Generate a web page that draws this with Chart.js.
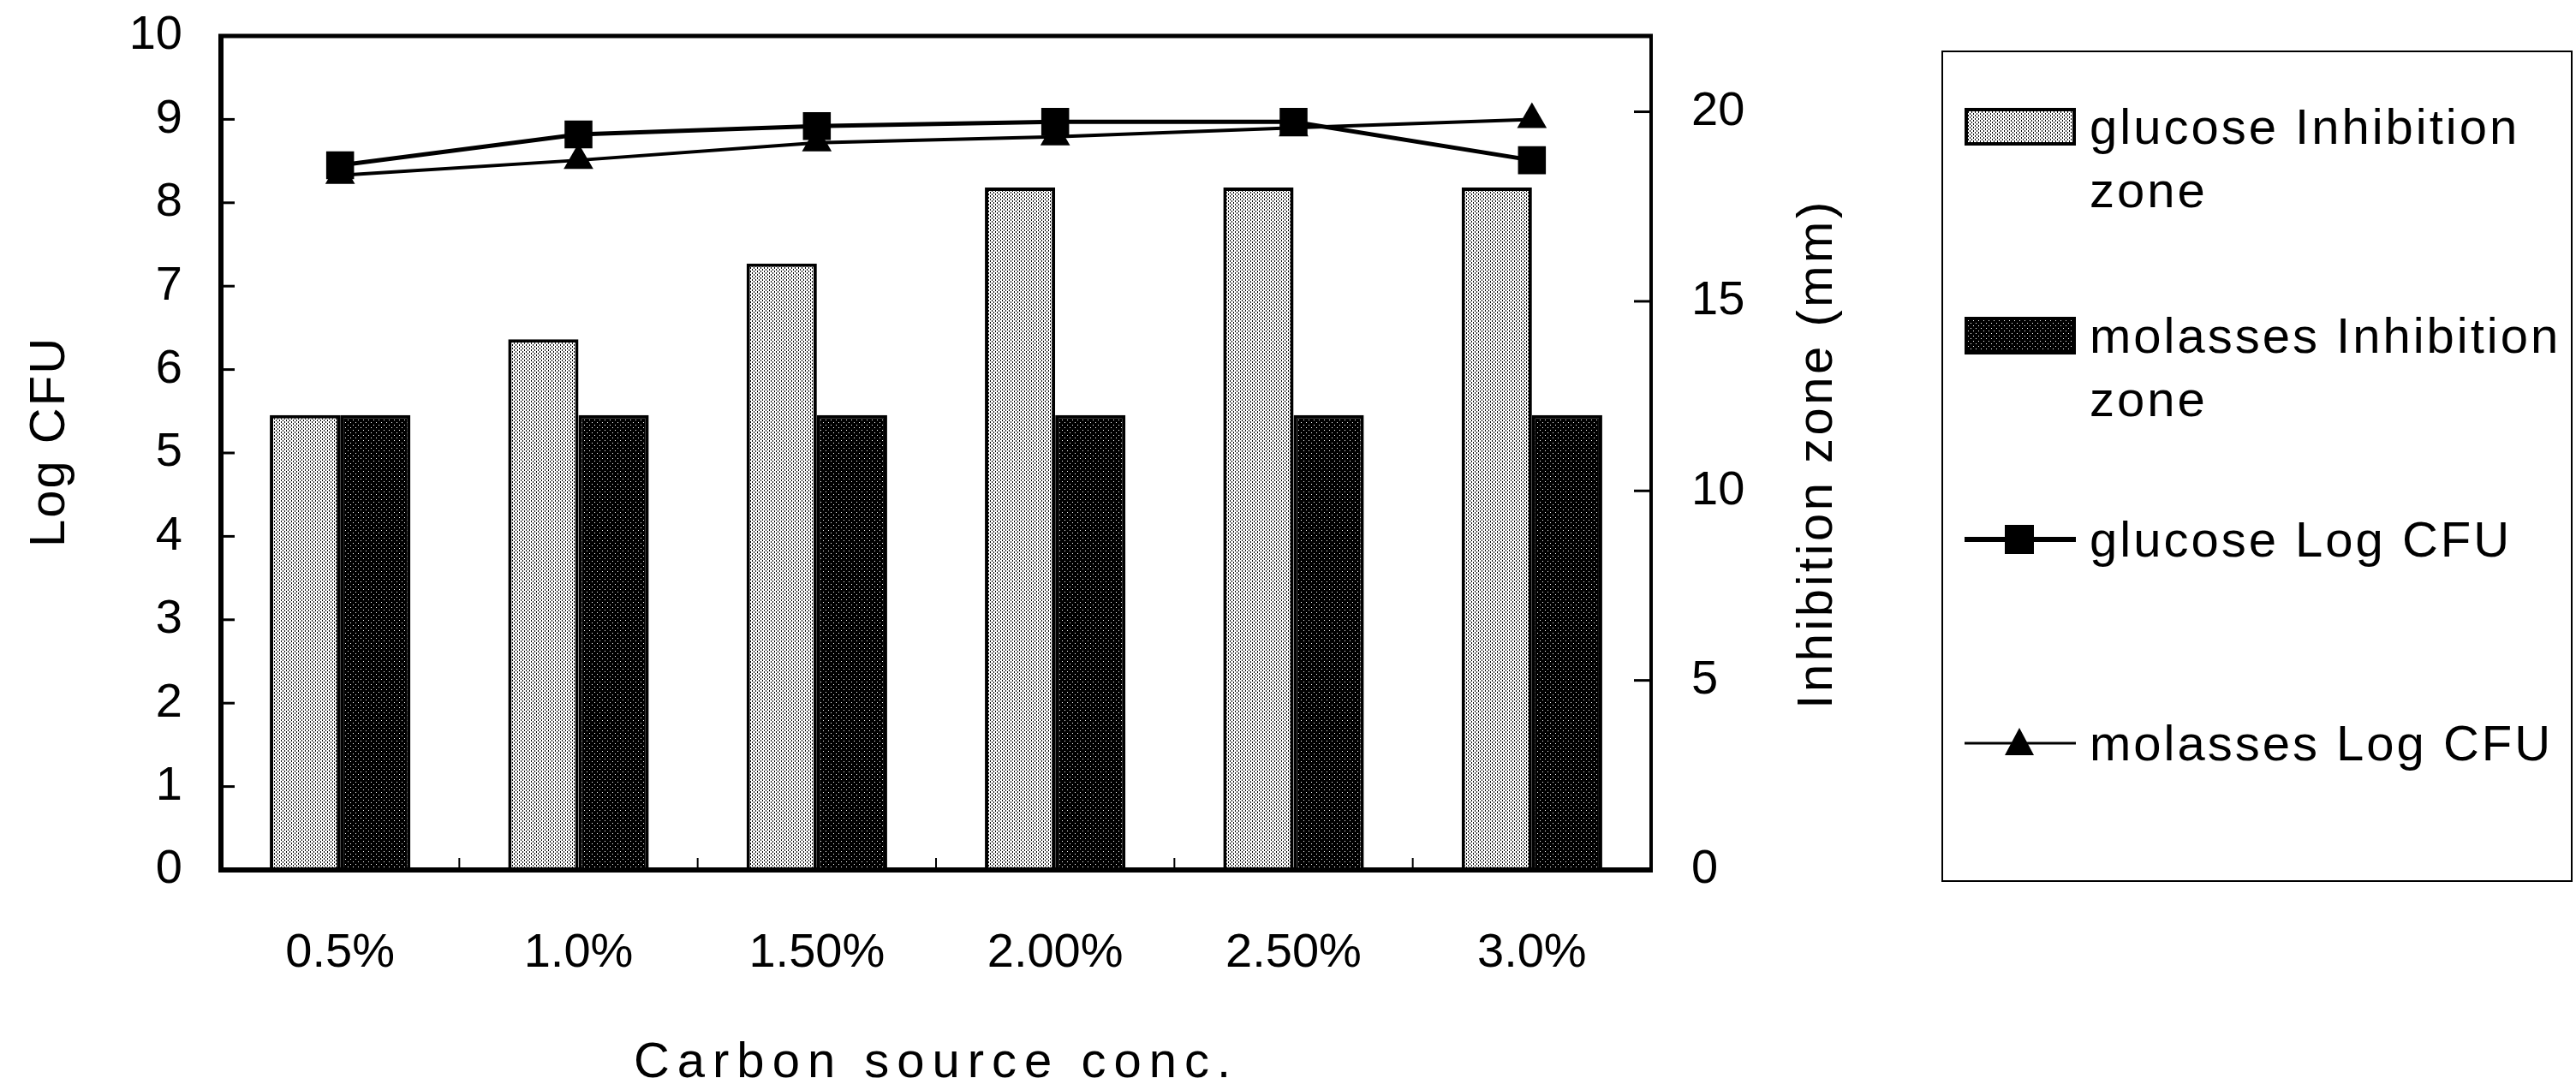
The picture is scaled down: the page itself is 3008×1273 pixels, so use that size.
<!DOCTYPE html>
<html>
<head>
<meta charset="utf-8">
<title>Carbon source conc.</title>
<script src="https://cdn.jsdelivr.net/npm/chart.js@4.4.1/dist/chart.umd.min.js"></script>
<style>
    html, body { margin: 0; padding: 0; background: #fff; }
    #wrap { position: relative; width: 3008px; height: 1273px; }
    #chart { position: absolute; left: 0; top: 0; }
    #legend {
        position: absolute; left: 2267px; top: 59px;
        width: 737px; height: 971px; box-sizing: border-box;
        border: 2px solid #000;
        font-family: "Liberation Sans", Arial, sans-serif;
        font-size: 58px; letter-spacing: 3px; color: #000;
    }
    .item { position: absolute; left: 0; width: 100%; }
    .item canvas { position: absolute; left: 25px; top: 15px; }
    .item .txt { position: absolute; left: 171px; top: 0; line-height: 74px; white-space: nowrap; }
</style>
</head>
<body>
<div id="wrap">
    <canvas id="chart" width="3008" height="1273"></canvas>
    <div id="legend"></div>
</div>
<script>
const FONT = "'Liberation Sans', Arial, sans-serif";

// data
const categories = ["0.5%", "1.0%", "1.50%", "2.00%", "2.50%", "3.0%"];
const glucoseZone = [12, 14, 16, 18, 18, 18];     // mm, right axis
const molassesZone = [12, 12, 12, 12, 12, 12];    // mm, right axis
const glucoseLogCfu = [8.45, 8.82, 8.92, 8.97, 8.97, 8.51];
const molassesLogCfu = [8.33, 8.51, 8.72, 8.79, 8.90, 9.00];
const zoneTicks = [0, 5, 10, 15, 20];

const glucoseZoneLabel = ["glucose Inhibition", "zone"];
const molassesZoneLabel = ["molasses Inhibition", "zone"];
const glucoseCfuLabel = ["glucose Log CFU"];
const molassesCfuLabel = ["molasses Log CFU"];

// stipple fills for the bars
function makePattern(bg, fg, dots, size) {
    const c = document.createElement("canvas");
    c.width = c.height = size;
    const g = c.getContext("2d");
    g.fillStyle = bg;
    g.fillRect(0, 0, size, size);
    g.fillStyle = fg;
    dots.forEach(d => g.fillRect(d[0], d[1], d[2], d[3]));
    return g.createPattern(c, "repeat");
}
const glucoseFill = makePattern("#fff", "#000", [[0, 0, 1, 2], [2, 2, 1, 2]], 4);
const molassesFill = makePattern("#000", "#fff", [[1, 1, 1, 1], [4, 4, 1, 1]], 6);

function line(ctx, x1, y1, x2, y2) {
    ctx.beginPath();
    ctx.moveTo(x1, y1);
    ctx.lineTo(x2, y2);
    ctx.stroke();
}

// keep tick labels from pushing the plot area around
function noPad(s) {
    s.paddingTop = 0;
    s.paddingBottom = 0;
    s.paddingLeft = 0;
    s.paddingRight = 0;
}

// box around the plot and the small inward tick marks
const framePlugin = {
    id: "frame",
    afterDatasetsDraw(chart) {
        const { ctx, chartArea: a, scales } = chart;
        ctx.save();
        ctx.strokeStyle = "#000";
        ctx.lineWidth = 3;
        scales.y.ticks.forEach(t => {
            const py = scales.y.getPixelForValue(t.value);
            line(ctx, a.left, py, a.left + 16, py);
        });
        scales.y1.ticks.forEach(t => {
            const py = scales.y1.getPixelForValue(t.value);
            line(ctx, a.right - 20, py, a.right, py);
        });
        ctx.lineWidth = 2;
        for (let i = 1; i < categories.length; i++) {
            const px = (scales.x.getPixelForTick(i - 1) + scales.x.getPixelForTick(i)) / 2;
            line(ctx, px, a.bottom - 14, px, a.bottom);
        }
        ctx.lineWidth = 6;
        line(ctx, a.left, a.top - 2, a.left, a.bottom + 3);
        line(ctx, a.left - 3, a.bottom, a.right + 2, a.bottom);
        ctx.lineWidth = 5;
        line(ctx, a.left - 3, a.top, a.right + 2, a.top);
        ctx.lineWidth = 4;
        line(ctx, a.right, a.top - 2, a.right, a.bottom + 3);
        ctx.restore();
    }
};

// axis titles (letter-spaced, both vertical ones read bottom to top)
const titlePlugin = {
    id: "titles",
    afterDraw(chart) {
        const { ctx, chartArea: a } = chart;
        ctx.save();
        ctx.fillStyle = "#000";
        ctx.font = "58px " + FONT;
        ctx.textAlign = "center";
        ctx.textBaseline = "alphabetic";

        ctx.letterSpacing = "9px";
        ctx.fillText("Carbon source conc.", (a.left + a.right) / 2, 1258);

        ctx.letterSpacing = "2px";
        ctx.save();
        ctx.translate(75, 516);
        ctx.rotate(-Math.PI / 2);
        ctx.fillText("Log CFU", 0, 0);
        ctx.restore();

        ctx.letterSpacing = "3.5px";
        ctx.save();
        ctx.translate(2139, 530);
        ctx.rotate(-Math.PI / 2);
        ctx.fillText("Inhibition zone (mm)", 0, 0);
        ctx.restore();
        ctx.restore();
    }
};

const tickFont = { family: FONT, size: 56 };

new Chart(document.getElementById("chart").getContext("2d"), {
    type: "bar",
    data: {
        labels: categories,
        datasets: [
            {
                type: "line", label: glucoseCfuLabel.join(" "), data: glucoseLogCfu, yAxisID: "y", order: 0,
                borderColor: "#000", borderWidth: 5, backgroundColor: "#000",
                pointStyle: "rect", pointRadius: 23, pointBorderWidth: 0
            },
            {
                type: "line", label: molassesCfuLabel.join(" "), data: molassesLogCfu, yAxisID: "y", order: 0,
                borderColor: "#000", borderWidth: 4, backgroundColor: "#000",
                pointStyle: "triangle", pointRadius: 20, pointBorderWidth: 0
            },
            {
                label: glucoseZoneLabel.join(" "), data: glucoseZone, yAxisID: "y1", order: 1,
                backgroundColor: glucoseFill, borderColor: "#000", borderWidth: 4,
                categoryPercentage: 0.59, barPercentage: 1.0
            },
            {
                label: molassesZoneLabel.join(" "), data: molassesZone, yAxisID: "y1", order: 1,
                backgroundColor: molassesFill, borderColor: "#000", borderWidth: 4,
                categoryPercentage: 0.59, barPercentage: 1.0
            }
        ]
    },
    options: {
        responsive: false,
        animation: false,
        devicePixelRatio: 1,
        layout: { padding: { top: 42, left: 0, right: 0, bottom: 0 } },
        plugins: {
            legend: { display: false },
            tooltip: { enabled: false }
        },
        scales: {
            x: {
                offset: true,
                grid: { display: false, drawTicks: false },
                border: { display: false },
                ticks: { color: "#000", font: tickFont, padding: 64, maxRotation: 0 },
                afterFit(s) { s.height = 257; noPad(s); }
            },
            y: {
                position: "left",
                min: 0, max: 10,
                grid: { display: false, drawTicks: false },
                border: { display: false },
                ticks: { stepSize: 1, color: "#000", font: tickFont, padding: 45 },
                afterFit(s) { s.width = 258; noPad(s); }
            },
            y1: {
                position: "right",
                min: 0, max: 22,
                grid: { display: false, drawTicks: false },
                border: { display: false },
                afterBuildTicks(s) { s.ticks = zoneTicks.map(v => ({ value: v })); },
                ticks: { color: "#000", font: tickFont, padding: 47 },
                afterFit(s) { s.width = 1080; noPad(s); }
            }
        }
    },
    plugins: [framePlugin, titlePlugin]
});

// legend built as html next to the plot
const legendItems = [
    { text: glucoseZoneLabel, top: 50, kind: "bar", fill: glucoseFill },
    { text: molassesZoneLabel, top: 294, kind: "bar", fill: molassesFill },
    { text: glucoseCfuLabel, top: 532, kind: "rect", width: 6 },
    { text: molassesCfuLabel, top: 770, kind: "triangle", width: 3 }
];
const legendEl = document.getElementById("legend");
legendItems.forEach(item => {
    const row = document.createElement("div");
    row.className = "item";
    row.style.top = item.top + "px";
    const sw = document.createElement("canvas");
    sw.width = 130;
    sw.height = 44;
    const g = sw.getContext("2d");
    if (item.kind === "bar") {
        g.fillStyle = item.fill;
        g.fillRect(0, 0, 130, 44);
        g.strokeStyle = "#000";
        g.lineWidth = 4;
        g.strokeRect(2, 2, 126, 40);
    } else {
        g.strokeStyle = "#000";
        g.fillStyle = "#000";
        g.lineWidth = item.width;
        line(g, 0, 22, 130, 22);
        if (item.kind === "rect") {
            g.fillRect(47, 5, 34, 34);
        } else {
            g.beginPath();
            g.moveTo(64, 4);
            g.lineTo(81, 36);
            g.lineTo(47, 36);
            g.closePath();
            g.fill();
        }
    }
    row.appendChild(sw);
    const txt = document.createElement("div");
    txt.className = "txt";
    txt.innerHTML = item.text.join("<br>");
    row.appendChild(txt);
    legendEl.appendChild(row);
});
</script>
</body>
</html>
